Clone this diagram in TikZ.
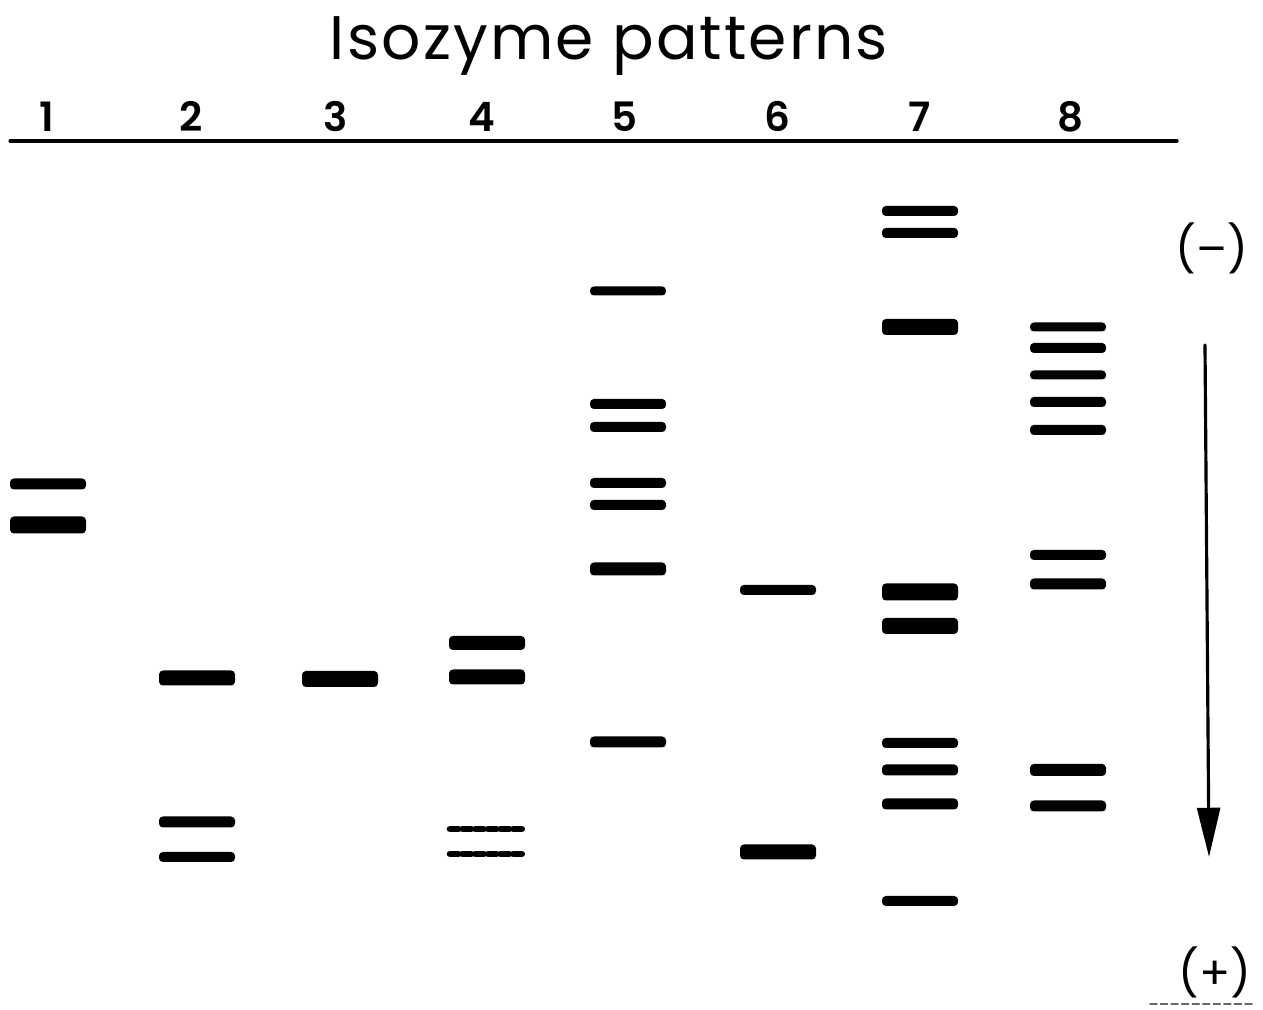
\documentclass[tikz,border=0pt]{standalone}
\usepackage{fontspec}
\setmainfont{Poppins}
\newfontfamily\titlefont[LetterSpace=3.5]{Poppins}
\newfontfamily\numfont{Poppins SemiBold}
\usetikzlibrary{arrows.meta}
\begin{document}
\begin{tikzpicture}[x=0.01cm, y=-0.01cm, line join=round, line cap=round, >=stealth]
	\useasboundingbox (0,0) rectangle (1263,1010);
	\node[font=\titlefont\fontsize{17.5}{20}\selectfont, anchor=base] (title) at (609,60) {Isozyme patterns};
	% lane numbers
	\foreach \n/\x in {1/47,2/191,3/336,4/482,5/625,6/777,7/920,8/1070}
		\node[font=\numfont\fontsize{11.5}{13}\selectfont, anchor=base] (lane\n) at (\x,132) {\n};
	\draw[line width=0.9pt] (10,141) -- (1177,141);
	% bands: lane centre / position / thickness
	\foreach \x/\y/\t in {48/484/11, 48/525/17,
			197/678/15, 197/822/11, 197/857/10,
			340/679/16,
			487/643/14, 487/677/15,
			628/291/9, 628/404/10, 628/427/10, 628/483/10, 628/505/10, 628/569/13, 628/742/11,
			778/590/10, 778/852/15,
			920/211/10, 920/233/10, 920/327/16, 920/592/17, 920/626/16, 920/743/10, 920/770/11, 920/804/11, 920/901/10,
			1068/327/9, 1068/348/10, 1068/375/9, 1068/402/10, 1068/430/10, 1068/555/10, 1068/584/11, 1068/770/12, 1068/806/11}
		\fill[rounded corners=1.1pt] ({\x-38},{\y-\t/2}) rectangle ({\x+38},{\y+\t/2});
	% faint bands of lane 4
	\foreach \y in {829,854}
		\draw[line width=1.9pt, line cap=round, dash pattern=on 2.4pt off 1.2pt] (450,\y) -- (524,\y);
	% electrodes
	\node[font=\fontsize{13}{15}\selectfont] (cathode) at (1212,248) {(–)};
	\node[font=\fontsize{13}{15}\selectfont] (anode) at (1215,972) {(+)};
	\coordinate (top) at (1205,345);
	\coordinate (bot) at (1209,857);
	\draw[line width=0.9pt, -{Triangle[length=14pt,width=6.5pt]}] (top) -- (bot);
	\draw[line width=0.4pt, black!60, dash pattern=on 2pt off 1pt] (1150,1004) -- (1255,1004);
\end{tikzpicture}
\end{document}
